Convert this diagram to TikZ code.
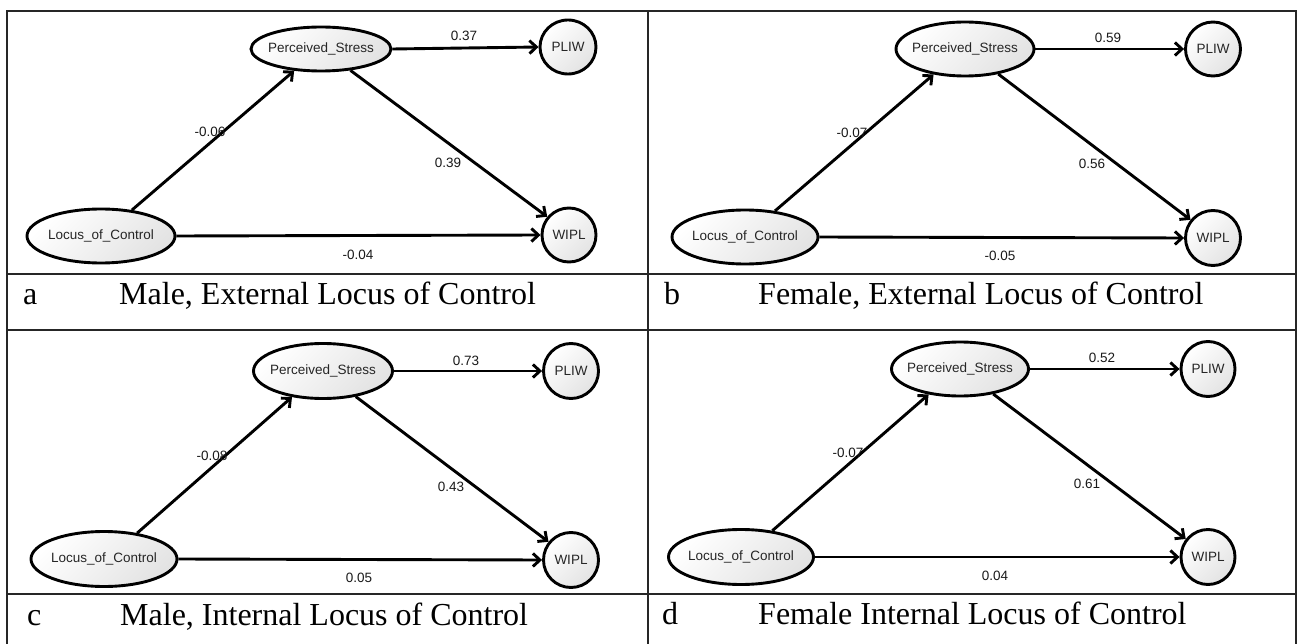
\documentclass[tikz,border=0pt]{standalone}
\usepackage{fontspec}
\setmainfont{Liberation Serif}
\setsansfont{Liberation Sans}
\usetikzlibrary{shapes.geometric,arrows.meta}
\begin{document}
\begin{tikzpicture}[x=1pt,y=-1pt,
  var/.style={ellipse, draw=black, line width=2.9pt, inner sep=0pt,
    top color=white, bottom color=black!11, shading angle=45,
    font=\sffamily\fontsize{13.5}{15}\selectfont, text=black!85},
  pathedge/.style={line width=2.9pt, draw=black, -{Straight Barb[length=7pt,width=13pt]}},
  coef/.style={font=\sffamily\fontsize{13.5}{15}\selectfont, text=black!90, inner sep=0pt},
  captxt/.style={anchor=base west, inner sep=0pt, font=\fontsize{32}{36}\selectfont},
  tablerule/.style={line width=1.6pt, draw=black!85}]
\useasboundingbox (0,0) rectangle (1298,644);

% table rules
\draw[tablerule] (7,644) -- (7,11) -- (1296,11) -- (1296,644);
\draw[tablerule] (648,11) -- (648,644);
\draw[tablerule] (7,274) -- (1296,274);
\draw[tablerule] (7,330) -- (1296,330);
\draw[tablerule] (7,594) -- (1296,594);

% ---------- panel a ----------
\node[var, minimum width=140pt, minimum height=44pt] (a-ps) at (321,49) {\makebox[0pt]{Perceived\_Stress}};
\node[var, minimum width=56pt, minimum height=54pt] (a-pliw) at (568,47) {\makebox[0pt]{PLIW}};
\node[var, minimum width=54pt, minimum height=54pt] (a-wipl) at (569,235) {\makebox[0pt]{WIPL}};
\node[var, minimum width=148pt, minimum height=54pt] (a-loc) at (101,236) {\makebox[0pt]{Locus\_of\_Control}};
\draw[pathedge] (a-ps.east) -- (a-pliw.west);
\draw[pathedge] (a-loc.40) -- (a-ps.219);
\draw[pathedge] (a-ps.-36) -- (a-wipl.140);
\draw[pathedge] (a-loc.east) -- (a-wipl.west);
\node[coef] (a-l1) at (464,36) {0.37};
\node[coef] (a-l2) at (210,132) {-0.06};
\node[coef] (a-l3) at (448,163) {0.39};
\node[coef] (a-l4) at (358,255) {-0.04};
\node[captxt] (a-key) at (23,305) {a};
\node[captxt] (a-cap) at (119,305) {Male, External Locus of Control};

% ---------- panel b ----------
\node[var, minimum width=138pt, minimum height=54pt] (b-ps) at (965,49) {\makebox[0pt]{Perceived\_Stress}};
\node[var, minimum width=55pt, minimum height=54pt] (b-pliw) at (1213,49) {\makebox[0pt]{PLIW}};
\node[var, minimum width=55pt, minimum height=55pt] (b-wipl) at (1213,238) {\makebox[0pt]{WIPL}};
\node[var, minimum width=146pt, minimum height=54pt] (b-loc) at (745,237) {\makebox[0pt]{Locus\_of\_Control}};
\draw[pathedge] (b-ps.east) -- (b-pliw.west);
\draw[pathedge] (b-loc.41) -- (b-ps.219);
\draw[pathedge] (b-ps.-37) -- (b-wipl.141);
\draw[pathedge] (b-loc.east) -- (b-wipl.west);
\node[coef] (b-l1) at (1108,38) {0.59};
\node[coef] (b-l2) at (852,133) {-0.07};
\node[coef] (b-l3) at (1092,164) {0.56};
\node[coef] (b-l4) at (1000,256) {-0.05};
\node[captxt] (b-key) at (664,305) {b};
\node[captxt] (b-cap) at (758,305) {Female, External Locus of Control};

% ---------- panel c ----------
\node[var, minimum width=139pt, minimum height=55pt] (c-ps) at (323,371) {\makebox[0pt]{Perceived\_Stress}};
\node[var, minimum width=55pt, minimum height=55pt] (c-pliw) at (571,371) {\makebox[0pt]{PLIW}};
\node[var, minimum width=55pt, minimum height=55pt] (c-wipl) at (571,560) {\makebox[0pt]{WIPL}};
\node[var, minimum width=146pt, minimum height=55pt] (c-loc) at (104,559) {\makebox[0pt]{Locus\_of\_Control}};
\draw[pathedge] (c-ps.east) -- (c-pliw.west);
\draw[pathedge] (c-loc.38) -- (c-ps.220);
\draw[pathedge] (c-ps.-38) -- (c-wipl.141);
\draw[pathedge] (c-loc.east) -- (c-wipl.west);
\node[coef] (c-l1) at (466,361) {0.73};
\node[coef] (c-l2) at (212,456) {-0.08};
\node[coef] (c-l3) at (451,487) {0.43};
\node[coef] (c-l4) at (359,578) {0.05};
\node[captxt] (c-key) at (27,625) {c};
\node[captxt] (c-cap) at (120,625) {Male, Internal Locus of Control};

% ---------- panel d ----------
\node[var, minimum width=137pt, minimum height=54pt] (d-ps) at (960,369) {\makebox[0pt]{Perceived\_Stress}};
\node[var, minimum width=54pt, minimum height=55pt] (d-pliw) at (1208,369) {\makebox[0pt]{PLIW}};
\node[var, minimum width=54pt, minimum height=55pt] (d-wipl) at (1208,557) {\makebox[0pt]{WIPL}};
\node[var, minimum width=145pt, minimum height=55pt] (d-loc) at (741,557) {\makebox[0pt]{Locus\_of\_Control}};
\draw[pathedge] (d-ps.east) -- (d-pliw.west);
\draw[pathedge] (d-loc.40) -- (d-ps.219);
\draw[pathedge] (d-ps.-37) -- (d-wipl.141);
\draw[pathedge] (d-loc.east) -- (d-wipl.west);
\node[coef] (d-l1) at (1102,358) {0.52};
\node[coef] (d-l2) at (848,453) {-0.07};
\node[coef] (d-l3) at (1087,484) {0.61};
\node[coef] (d-l4) at (995,576) {0.04};
\node[captxt] (d-key) at (662,624) {d};
\node[captxt] (d-cap) at (758,624) {Female Internal Locus of Control};
\end{tikzpicture}
\end{document}
